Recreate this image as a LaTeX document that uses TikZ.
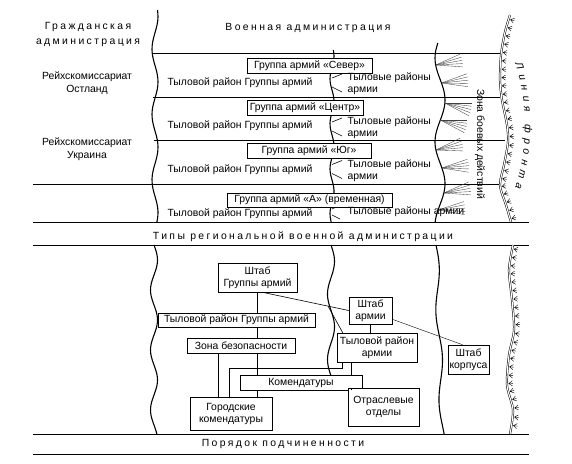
\documentclass[tikz,border=0pt]{standalone}
\usepackage{fontspec}
\setmainfont{Liberation Sans}
\usepackage{tikz}
\usetikzlibrary{decorations.markings, decorations.text}

\begin{document}
\begin{tikzpicture}[x=1pt,y=-1pt,thin,font=\fontsize{10.4}{12}\selectfont]
  \tikzset{box/.style={draw, fill=white, align=center, inner sep=0pt, line width=0.6pt},
           spaced/.style={align=center, font=\fontsize{10.4}{15}\selectfont\addfontfeature{LetterSpace=23}},
           region/.style={align=center, font=\fontsize{10.4}{13}\selectfont},
           rule/.style={line width=0.6pt},
           wave/.style={line width=1.1pt},
           link/.style={line width=0.6pt},
           fan/.style={line width=0.35pt, black!75},
           tuft/.style={postaction={decorate, decoration={markings,
               mark=between positions 0.02 and 0.99 step 8.5pt with {
                 \draw[line width=0.4pt] (0,-1.8) -- (-2.5,-5.5) (0,-1.8) -- (0,-6) (0,-1.8) -- (2.5,-5.5);}}}},
           front/.style={double, double distance=1.1pt, line width=0.5pt}}
  \useasboundingbox (0,0) rectangle (572,463);

  % headings
  \node[spaced] (civil) at (88,34.5) {Гражданская\\администрация};
  \node[spaced] (mil) at (308,28) {Военная администрация};
  \node[spaced] (types) at (303,237) {Типы региональной военной администрации};
  \node[spaced] (order) at (283,444) {Порядок подчиненности};
  \node[region] (ostland) at (87,83.5) {Рейхскомиссариат\\Остланд};
  \node[region] (ukraine) at (87,149.5) {Рейхскомиссариат\\Украина};

  % rules
  \draw[rule] (152,53) -- (502,53);
  \draw[rule] (153,97) -- (500,97);
  \draw[rule] (154,140) -- (505,140);
  \draw[rule] (33,184) -- (500,184);
  \foreach \y in {222,245,434,454}
    \draw[rule] (33,\y) -- (529,\y);

  % wavy borders
  \draw[wave] plot[domain=10:222, samples=60, smooth, variable=\t] ({155+3*sin(5.5*\t)}, \t);
  \draw[wave] plot[domain=245:434, samples=60, smooth, variable=\t] ({154+3.5*sin(6*(\t-245))}, \t);
  \draw[wave] plot[domain=50:222, samples=60, smooth, variable=\t] ({332+2*sin(8*\t)}, \t);
  \draw[wave] plot[domain=245:376, samples=50, smooth, variable=\t] ({331+3.5*sin(5.5*(\t-245))}, \t);
  \draw[wave] plot[domain=43:222, samples=60, smooth, variable=\t] ({440+5*cos(4.3*(\t-100))}, \t);
  \draw[wave] plot[domain=245:434, samples=60, smooth, variable=\t] ({436+0.035*(\t-245)+2.5*sin(4*(\t-245))}, \t);
  \foreach \yc in {84,128,170.5} {
    \draw[link] (332,\yc-6) -- (342,\yc-10);
    \draw[link] (332,\yc+3) -- (342,\yc+8);
  }
  \draw[link] (332,209) -- (340,205) (332,215) -- (340,219);

  % combat zone fans
  \foreach \y/\a in {65/-10,83/-6,103/14,120/14,150/-12,168/-5,193/-10,210/-4} {
    \pgfmathsetmacro\xl{440+5*cos(4.3*(\y-100))}
    \foreach \d in {-14,-7,0,7,14}
      \draw[fan] (\xl,\y) -- ++(\a+\d:27);
  }

  % front line
  \draw[front, tuft] plot[smooth] coordinates {(510,15) (505,32) (501,55) (500,80) (502,100)
    (507,125) (508,142) (504,165) (500,185) (506,205) (511,222)};
  \draw[front, tuft] plot[smooth] coordinates {(513,245) (509,270) (512,300) (514,330)
    (509,355) (507,385) (513,410) (510,434)};
  \node[rotate=-90] (zone) at (480,144) {Зона боевых действий};
  \path[decorate, decoration={text along path, text align=fit to path,
      text={|\fontsize{10.4}{12}\selectfont\itshape|Линия фронта}}]
    (515,64) .. controls (528,100) and (528,150) .. (515,188);

  % army groups
  \node[box, minimum width=125, minimum height=15] (north) at (309.5,65.5) {Группа армий «Север»};
  \node[box, minimum width=116, minimum height=15] (centre) at (305,107.5) {Группа армий «Центр»};
  \node[box, minimum width=124, minimum height=15] (south) at (309,150.5) {Группа армий «Юг»};
  \node[box, minimum width=165, minimum height=14] (groupa) at (309.5,200) {Группа армий «А» (временная)};
  \foreach \y [count=\i] in {83,126,170,214}
    \node (rear\i) at (240,\y) {Тыловой район Группы армий};
  \node[anchor=west, align=left] (arear1) at (344,84) {Тыловые районы\\армии};
  \node[anchor=west, align=left] (arear2) at (344,128) {Тыловые районы\\армии};
  \node[anchor=west, align=left] (arear3) at (344,170.5) {Тыловые районы\\армии};
  \node[anchor=west] (arear4) at (344,212) {Тыловые районы армии};

  % chain of command
  \node[box, minimum width=79, minimum height=29] (hqgroup) at (257.5,277.5) {Штаб\\Группы армий};
  \node[box, minimum width=157, minimum height=14] (reargroup) at (236.5,320) {Тыловой район Группы армий};
  \node[box, minimum width=108, minimum height=15] (security) at (241,345.5) {Зона безопасности};
  \node[box, minimum width=122, minimum height=15] (kommand) at (301,382.5) {Комендатуры};
  \node[box, minimum width=82, minimum height=33] (city) at (231,413.5) {Городские\\комендатуры};
  \node[box, minimum width=43, minimum height=27] (hqarmy) at (370.5,310.5) {Штаб\\армии};
  \node[box, minimum width=80, minimum height=29] (reararmy) at (377,347.5) {Тыловой район\\армии};
  \node[box, minimum width=41, minimum height=29] (hqcorps) at (468.5,359.5) {Штаб\\корпуса};
  \node[box, minimum width=71, minimum height=38] (branch) at (383.5,407) {Отраслевые\\отделы};

  \draw[link] (hqgroup.south) -- (hqgroup.south |- reargroup.north);
  \draw[link] (hqgroup.south |- reargroup.south) -- (hqgroup.south |- security.north);
  \draw[link] (hqgroup.south |- security.south) -- (hqgroup.south |- kommand.north);
  \draw[link] (hqgroup.south |- kommand.south) -- (hqgroup.south |- city.north);
  \draw[link] ([xshift=-23pt]security.south) -- ([xshift=-23pt]security.south |- city.north);
  \draw[link] ([xshift=6pt]reararmy.south west) -- ++(0,6) -| ([xshift=-2pt]city.north);
  \draw[line width=1.4pt] ([xshift=15pt]reararmy.south west) -- ([xshift=15pt]reararmy.south west |- kommand.north);
  \draw[link] ([xshift=4pt]branch.north west |- kommand.south) -- ([xshift=4pt]branch.north west);
  \draw[link] ([xshift=5pt]hqgroup.south) -- (hqarmy.west) coordinate[pos=0.76] (fork);
  \draw[link] (fork) -- ([xshift=6pt]reararmy.north west);
  \draw[link] (hqarmy.south) -- (hqarmy.south |- reararmy.north);
  \draw[line width=0.4pt] ([yshift=5pt]hqarmy.south east) -- ([xshift=-6pt]hqcorps.north);
\end{tikzpicture}
\end{document}
